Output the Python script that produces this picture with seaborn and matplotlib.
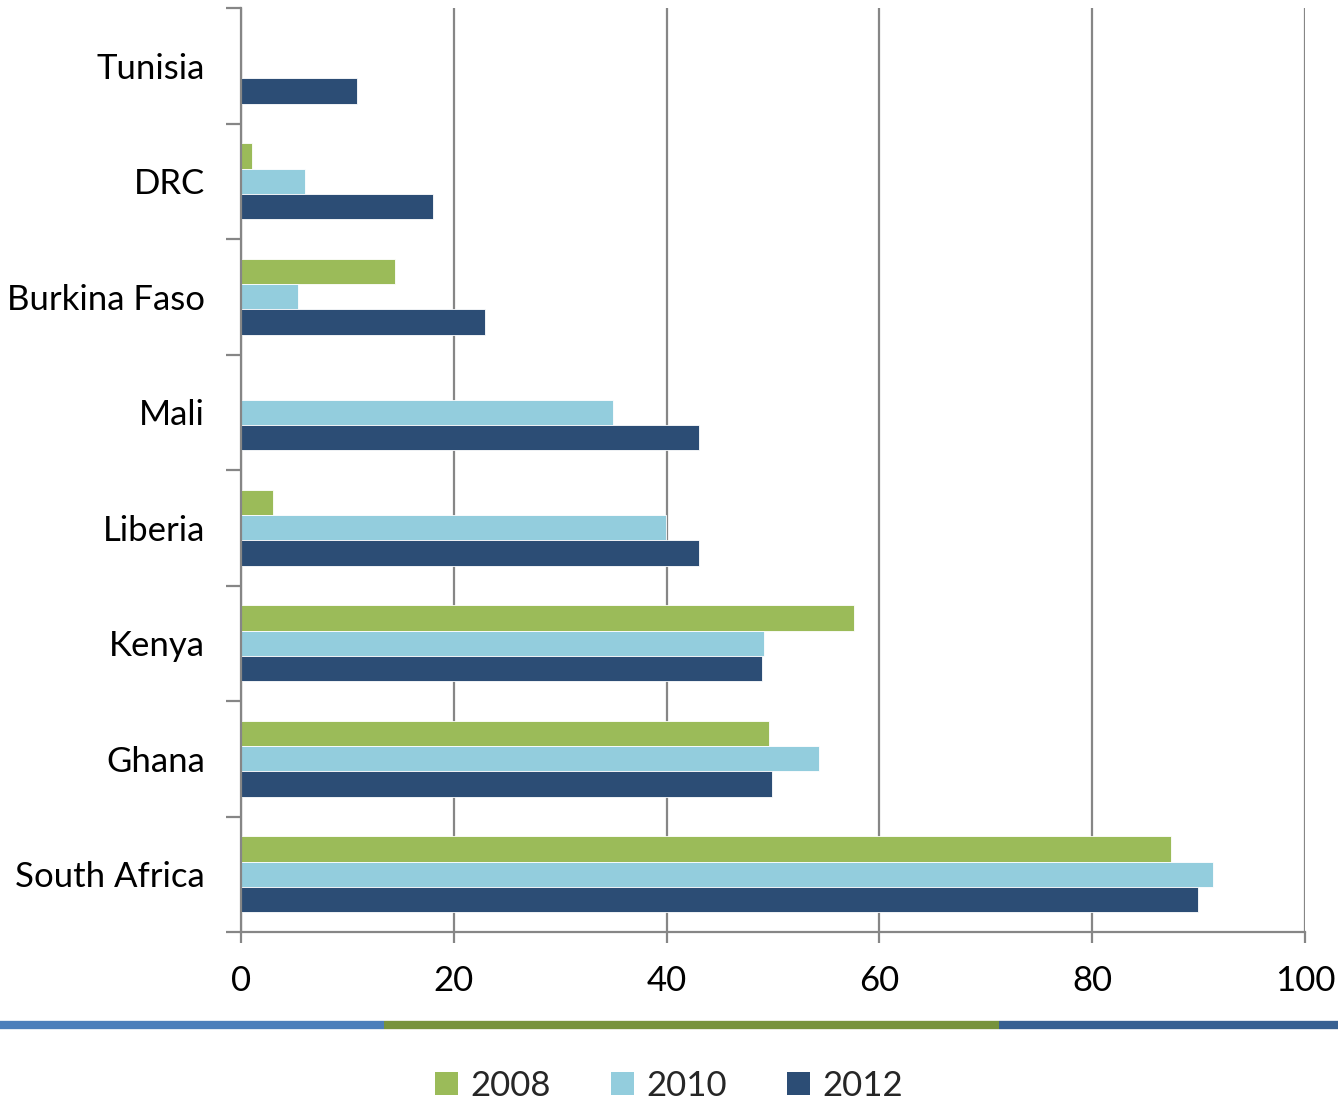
import matplotlib
matplotlib.use("Agg")
import matplotlib.pyplot as plt
import seaborn as sns
import pandas as pd
import numpy as np
from matplotlib.patches import Patch
from matplotlib.lines import Line2D
from matplotlib.ticker import FixedLocator, MultipleLocator

countries = ["Tunisia", "DRC", "Burkina Faso", "Mali", "Liberia", "Kenya", "Ghana", "South Africa"]
years = ["2008", "2010", "2012"]
v2008 = [np.nan, 1.0, 14.5, np.nan, 3.0, 57.6, 49.6, 87.4]
v2010 = [np.nan, 6.0, 5.4, 35.0, 39.9, 49.2, 54.3, 91.4]
v2012 = [10.9, 18.0, 22.9, 43.0, 43.0, 49.0, 49.9, 89.9]
colors = ["#9BBB59", "#93CDDD", "#2C4D75"]

rows = []
for yr, vals in zip(years, [v2008, v2010, v2012]):
    for c, v in zip(countries, vals):
        rows.append({"Country": c, "Year": yr, "Value": v})
df = pd.DataFrame(rows)

sns.set_theme(style="white")
plt.rcParams["font.family"] = ["Lato", "DejaVu Sans"]

fig = plt.figure(figsize=(13.38, 11), dpi=100)
ax = fig.add_axes([241/1338, 1-932/1100, (1305-241)/1338, (932-8)/1100])

sns.barplot(data=df, y="Country", x="Value", hue="Year", order=countries,
            hue_order=years, palette=colors, saturation=1, orient="h", width=0.66,
            edgecolor="white", linewidth=0.6, ax=ax, legend=False, errorbar=None)

ax.set_xlim(0, 100)
ax.set_ylim(7.5, -0.5)
ax.set_xlabel("")
ax.set_ylabel("")
ax.xaxis.set_major_locator(MultipleLocator(20))
ax.grid(axis="x", color="#868686", linewidth=1.6)
ax.set_axisbelow(True)
for s in ["top", "right"]:
    ax.spines[s].set_visible(False)
for s in ["left", "bottom"]:
    ax.spines[s].set_color("#868686")
    ax.spines[s].set_linewidth(1.6)

ax.tick_params(axis="x", which="major", length=8, width=1.6, color="#868686",
               labelsize=25, pad=16, labelcolor="black", bottom=True)
ax.tick_params(axis="y", which="major", length=0, labelsize=25, pad=26, labelcolor="black")
ax.yaxis.set_minor_locator(FixedLocator(np.arange(-0.5, 8.0, 1.0)))
ax.tick_params(axis="y", which="minor", length=11, width=1.6, color="#868686", left=True)

# decorative coloured rule
y_rule = 1 - 1025/1100
fig.add_artist(Line2D([0, 384/1338], [y_rule, y_rule], color="#4A7EBB", linewidth=6, solid_capstyle="butt"))
fig.add_artist(Line2D([384/1338, 999/1338], [y_rule, y_rule], color="#77933C", linewidth=6, solid_capstyle="butt"))
fig.add_artist(Line2D([999/1338, 1], [y_rule, y_rule], color="#376092", linewidth=6, solid_capstyle="butt"))

handles = [Patch(facecolor=c, edgecolor="none", label=y) for c, y in zip(colors, years)]
fig.legend(handles=handles, loc="center", bbox_to_anchor=(0.5, 1-1086/1100), ncol=3,
           frameon=False, fontsize=25, handlelength=0.65, handleheight=0.65,
           handletextpad=0.35, columnspacing=1.75)

fig.savefig("out.png", dpi=100)
